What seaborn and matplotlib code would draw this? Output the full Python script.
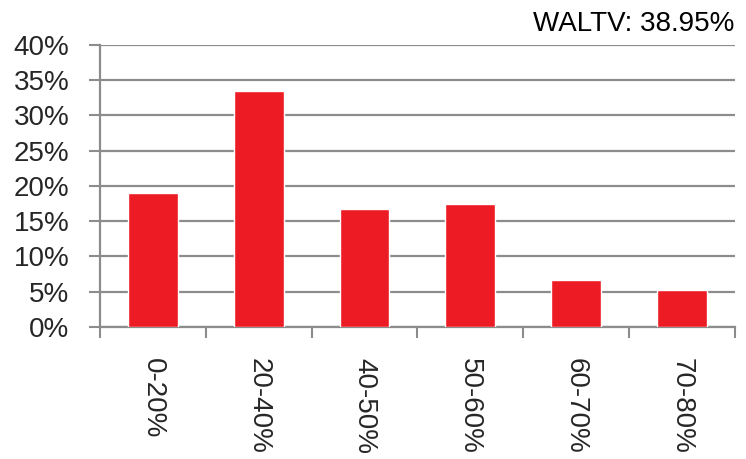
import numpy as np
import pandas as pd
import matplotlib
matplotlib.use('Agg')
import matplotlib.pyplot as plt
from matplotlib.ticker import FuncFormatter, FixedLocator
import seaborn as sns

# LTV buckets and share of portfolio (%)
buckets = ['0-20%', '20-40%', '40-50%', '50-60%', '60-70%', '70-80%']
shares = [19.0, 33.5, 16.8, 17.4, 6.7, 5.3]
waltv_label = 'WALTV: 38.95%'

sns.set_theme(style='white')
plt.rcParams['font.family'] = ['Liberation Sans', 'DejaVu Sans']

df = pd.DataFrame({'bucket': buckets, 'share': shares})

fig = plt.figure(figsize=(7.46, 4.59), dpi=100)
ax = fig.add_axes([0.134, 0.2876, 0.851, 0.6144])

sns.barplot(data=df, x='bucket', y='share', color='#ED1C24', width=0.47,
            saturation=1, ax=ax, zorder=3)

grid_col = '#8c8c8c'
ax.set_ylim(0, 40)
ax.set_xlim(-0.5, len(buckets) - 0.5)
ax.set_yticks(np.arange(0, 41, 5))
ax.yaxis.set_major_formatter(FuncFormatter(lambda v, p: f'{v:.0f}%'))
ax.grid(axis='y', color=grid_col, linewidth=1.6, zorder=0)
ax.set_axisbelow(True)

# ticks between categories on x axis
ax.xaxis.set_minor_locator(FixedLocator(np.arange(-0.5, len(buckets), 1.0)))
ax.tick_params(axis='x', which='major', length=0, pad=22, labelsize=20,
               labelrotation=270)
ax.tick_params(axis='x', which='minor', length=8, width=1.5, color=grid_col,
               direction='out', bottom=True)
ax.tick_params(axis='y', length=8, width=1.5, color=grid_col, left=True,
               labelsize=20, pad=14)
for lbl in ax.get_xticklabels():
    lbl.set_va('top')
    lbl.set_ha('center')

for side in ['top', 'right']:
    ax.spines[side].set_visible(False)
for side in ['left', 'bottom']:
    ax.spines[side].set_color(grid_col)
    ax.spines[side].set_linewidth(1.6)

ax.set_xlabel('')
ax.set_ylabel('')

ax.text(1.0, 1.03, waltv_label, transform=ax.transAxes, ha='right', va='bottom',
        fontsize=20, color='black')

fig.savefig('out.png', dpi=100)
